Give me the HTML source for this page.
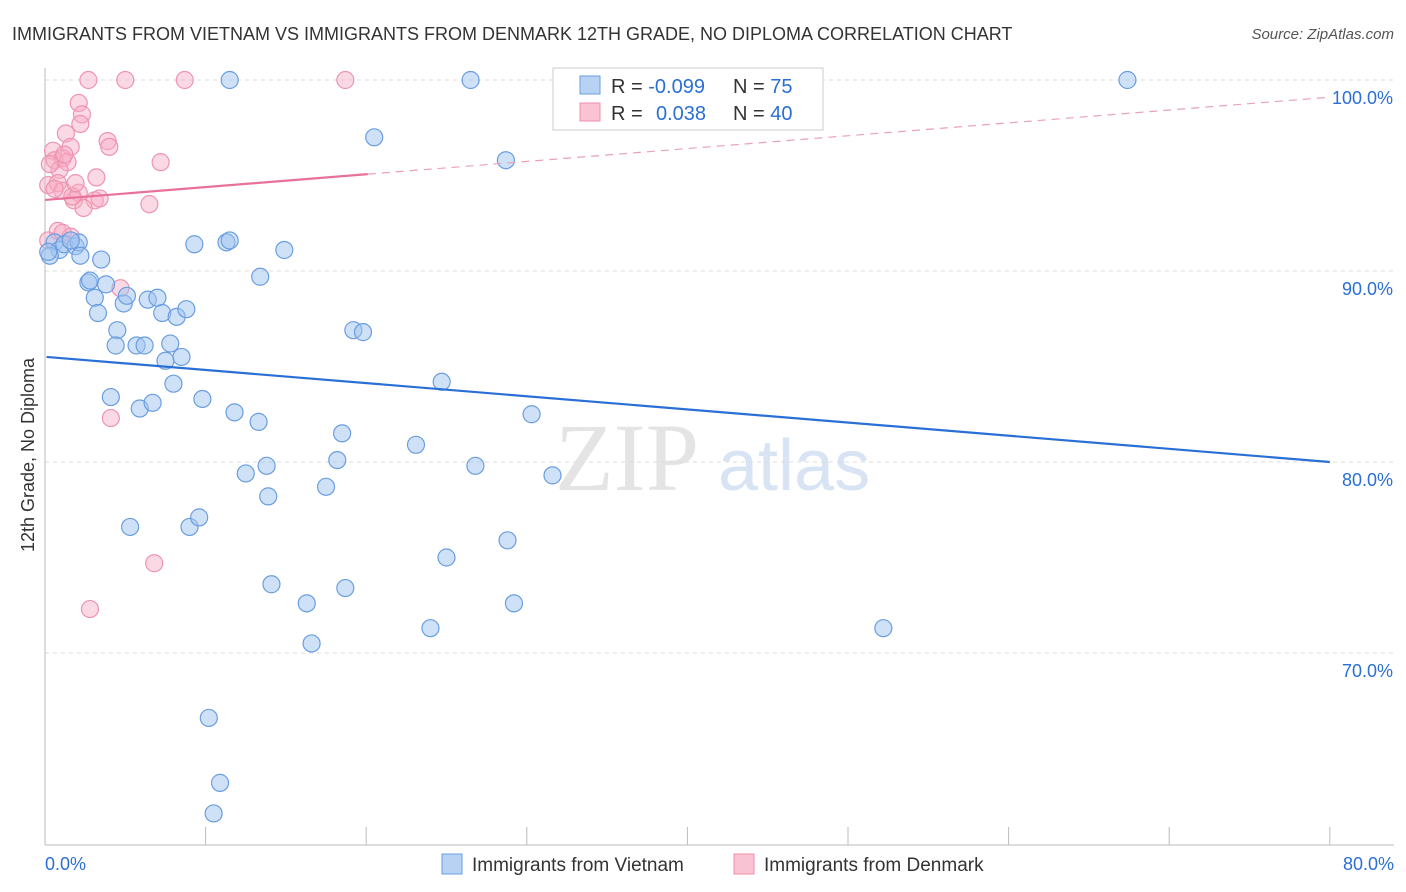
<!DOCTYPE html>
<html><head><meta charset="utf-8"><style>
body{margin:0;background:#fff;font-family:"Liberation Sans",sans-serif}
svg{display:block}
</style></head><body>
<svg id="c" width="1406" height="892">
<text x="12" y="40" font-size="18" fill="#333">IMMIGRANTS FROM VIETNAM VS IMMIGRANTS FROM DENMARK 12TH GRADE, NO DIPLOMA CORRELATION CHART</text>
<text x="1394" y="39" font-size="15" fill="#555" font-style="italic" text-anchor="end">Source: ZipAtlas.com</text>
<text x="555" y="490" font-size="96" fill="#e4e4e4" font-family="Liberation Serif,serif">ZIP</text>
<text x="718" y="490" font-size="72" fill="#d8e4f4">atlas</text>
<text transform="translate(34,455) rotate(-90)" font-size="18" fill="#333" text-anchor="middle">12th Grade, No Diploma</text>
<g id="grid"></g><g id="marks"></g>
<g>
<rect x="553" y="68" width="270" height="62" fill="#fff" stroke="#ccc"/>
<rect x="580" y="76" width="20" height="18" fill="#b8d2f4" stroke="#6a9ee0"/>
<rect x="580" y="103" width="20" height="18" fill="#f9c3d3" stroke="#ee8fab"/>
<text x="611" y="93" font-size="20" fill="#333">R = <tspan fill="#2a6fd6">-0.099</tspan><tspan x="733">N = </tspan><tspan fill="#2a6fd6">75</tspan></text>
<text x="611" y="120" font-size="20" fill="#333">R = <tspan x="656" fill="#2a6fd6">0.038</tspan><tspan x="733">N = </tspan><tspan fill="#2a6fd6">40</tspan></text>
</g>
<g>
<rect x="442" y="854" width="20" height="20" fill="#b8d2f4" stroke="#6a9ee0"/>
<text x="472" y="871" font-size="19" fill="#333">Immigrants from Vietnam</text>
<rect x="734" y="854" width="20" height="20" fill="#f9c3d3" stroke="#ee8fab"/>
<text x="764" y="871" font-size="19" fill="#333">Immigrants from Denmark</text>
</g>
</svg>
<script>
const xTicks=[0,10,20,30,40,50,60,70,80];
const yTicks=[70,80,90,100];
const yTickLabels=["70.0%","80.0%","90.0%","100.0%"];
const xEndLabels=["0.0%","80.0%"];
const blueX=[0.6,0.9,0.3,1.2,1.9,2.1,2.2,1.6,3.5,2.7,2.8,3.1,3.3,3.8,4.5,4.4,4.9,5.1,5.7,6.2,6.4,7.0,7.3,7.5,7.8,8.2,8.5,8.8,8.0,4.1,5.9,6.7,9.8,9.3,11.3,11.5,13.4,14.9,11.5,26.5,20.5,28.7,67.4,43.3,11.8,13.3,19.2,19.8,24.7,30.3,12.5,13.8,13.9,18.2,18.5,17.5,23.1,26.8,31.6,5.3,9.0,9.6,14.1,16.3,16.6,18.7,25.0,28.8,29.2,24.0,52.2,10.2,10.9,10.5,0.2];
const blueY=[91.5,91.1,90.8,91.4,91.3,91.5,90.8,91.6,90.6,89.4,89.5,88.6,87.8,89.3,86.9,86.1,88.3,88.7,86.1,86.1,88.5,88.6,87.8,85.3,86.2,87.6,85.5,88.0,84.1,83.4,82.8,83.1,83.3,91.4,91.5,91.6,89.7,91.1,100,100,97.0,95.8,100,100,82.6,82.1,86.9,86.8,84.2,82.5,79.4,79.8,78.2,80.1,81.5,78.7,80.9,79.8,79.3,76.6,76.6,77.1,73.6,72.6,70.5,73.4,75.0,75.9,72.6,71.3,71.3,66.6,63.2,61.6,91.0];
const pinkX=[2.7,5.0,8.7,18.7,2.1,2.3,2.2,1.3,0.5,1.6,3.9,4.0,0.6,1.1,1.4,0.9,7.2,3.2,0.2,0.8,1.1,2.1,1.8,3.1,3.4,2.4,6.5,0.8,1.6,4.7,4.1,6.8,2.8,0.6,0.3,1.2,1.7,1.1,0.2,1.9];
const pinkY=[100,100,100,100,98.8,98.2,97.7,97.2,96.3,96.5,96.8,96.5,95.8,95.9,95.7,95.3,95.7,94.9,94.5,94.6,94.2,94.1,93.7,93.7,93.8,93.3,93.5,92.1,91.8,89.1,82.3,74.7,72.3,94.3,95.6,96.1,93.9,92.0,91.6,94.6];
const blueTrend=[85.5,80.0];
const pinkTrend=[93.72,99.1];
const pinkSolidEnd=20.1;
const X=v=>45+v*16.06, Y=v=>80+(100-v)*19.1;
const NS="http://www.w3.org/2000/svg";
function mk(t,a,p){const e=document.createElementNS(NS,t);for(const k in a)e.setAttribute(k,a[k]);p.appendChild(e);return e;}
const g=document.getElementById('grid'), m=document.getElementById('marks');
yTicks.forEach((t,i)=>{
 const l=mk('line',{x1:45,x2:1394,y1:Y(t),y2:Y(t),stroke:'#ddd','stroke-dasharray':'4,4'},g);
 
 
 const tx=mk('text',{x:1393,y:Y(t)+24,'font-size':18,fill:'#2a6fd6','text-anchor':'end'},g);
 tx.textContent=yTickLabels[i];
 
 
});
const ax=mk('line',{x1:45,x2:1394,y1:845,y2:845,stroke:'#bbb'},g);


const ay=mk('line',{x1:45,x2:45,y1:68,y2:845,stroke:'#bbb'},g);


xTicks.forEach(t=>{
 const l=mk('line',{x1:X(t),x2:X(t),y1:827,y2:845,stroke:'#bbb'},g);
 
 
});
[[0,'start',45],[80,'end',1394]].forEach((d,i)=>{
 const tx=mk('text',{x:d[2],y:870,'font-size':18,fill:'#2a6fd6','text-anchor':d[1]},g);
 tx.textContent=xEndLabels[i];
 
 
});
pinkX.forEach((x,i)=>{
 const c=mk('circle',{cx:X(x),cy:Y(pinkY[i]),r:8.5,fill:'rgba(247,170,195,0.45)',stroke:'#ee94b0','stroke-width':1.2},m);
 
 
});
blueX.forEach((x,i)=>{
 const c=mk('circle',{cx:X(x),cy:Y(blueY[i]),r:8.5,fill:'rgba(160,195,240,0.5)',stroke:'#6a9ee0','stroke-width':1.2},m);
 
 
});
const bt=mk('line',{x1:X(0.1),y1:Y(blueTrend[0]),x2:X(80),y2:Y(blueTrend[1]),stroke:'#2a6fd6','stroke-width':2.2},m);


const pAt=x=>pinkTrend[0]+(pinkTrend[1]-pinkTrend[0])*x/80;
const ps=mk('line',{x1:X(0),y1:Y(pAt(0)),x2:X(pinkSolidEnd),y2:Y(pAt(pinkSolidEnd)),stroke:'#e8719a','stroke-width':2.2},m);


const pd=mk('line',{x1:X(pinkSolidEnd),y1:Y(pAt(pinkSolidEnd)),x2:X(80),y2:Y(pAt(80)),stroke:'#eaa0b8','stroke-width':1.2,'stroke-dasharray':'8,6'},m);


</script>
</body></html>
